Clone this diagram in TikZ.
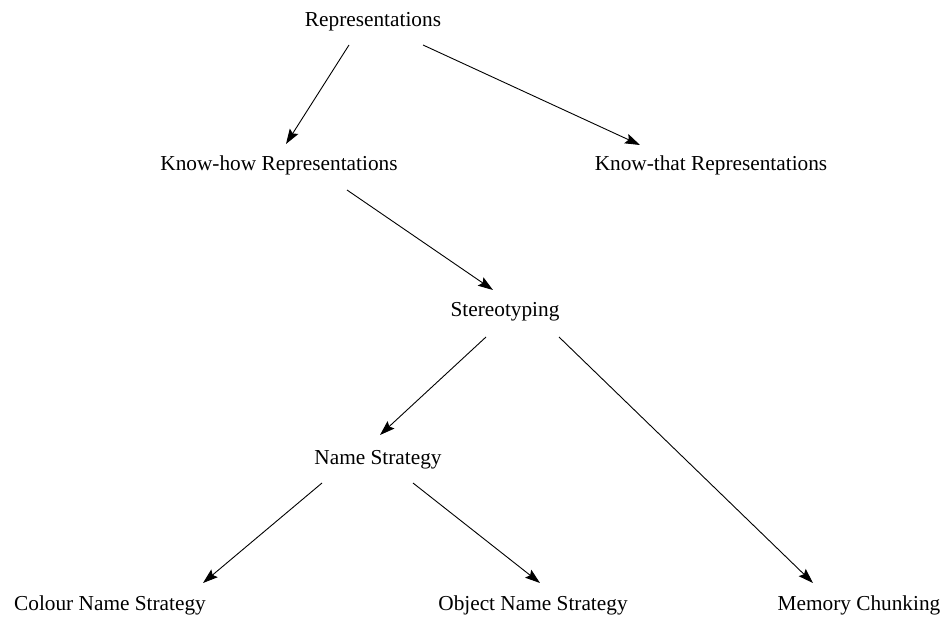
\documentclass[tikz,border=0pt]{standalone}
\usepackage{fontspec}
\setmainfont{Liberation Serif}
\usetikzlibrary{arrows.meta}
\begin{document}
\begin{tikzpicture}[x=1pt,y=-1pt,
  lbl/.style={anchor=base,inner sep=0pt,font=\fontsize{21.3}{25}\selectfont},
  edge/.style={line width=0.9pt,-{Stealth[length=15pt,width=10pt,inset=2.5pt]}}]
\useasboundingbox (0,0) rectangle (948,620);
\node[lbl] (rep) at (373,27) {Representations};
\node[lbl] (kh) at (279,171) {Know-how Representations};
\node[lbl] (kt) at (711,171) {Know-that Representations};
\node[lbl] (st) at (505,317) {Stereotyping};
\node[lbl] (ns) at (378,464) {Name Strategy};
\node[lbl] (cn) at (110,610) {Colour Name Strategy};
\node[lbl] (on) at (533,610) {Object Name Strategy};
\node[lbl] (mc) at (859,610) {Memory Chunking};
\draw[edge] ([shift={(-24,18)}]rep.base) -- ([shift={(7,-27)}]kh.base);
\draw[edge] ([shift={(50,18)}]rep.base) -- ([shift={(-71,-26)}]kt.base);
\draw[edge] ([shift={(68,19)}]kh.base) -- ([shift={(-12,-27)}]st.base);
\draw[edge] ([shift={(-19,20)}]st.base) -- ([shift={(2,-29)}]ns.base);
\draw[edge] ([shift={(54,20)}]st.base) -- ([shift={(-46,-27)}]mc.base);
\draw[edge] ([shift={(-56,19)}]ns.base) -- ([shift={(93,-27)}]cn.base);
\draw[edge] ([shift={(35,19)}]ns.base) -- ([shift={(7,-27)}]on.base);
\end{tikzpicture}
\end{document}
